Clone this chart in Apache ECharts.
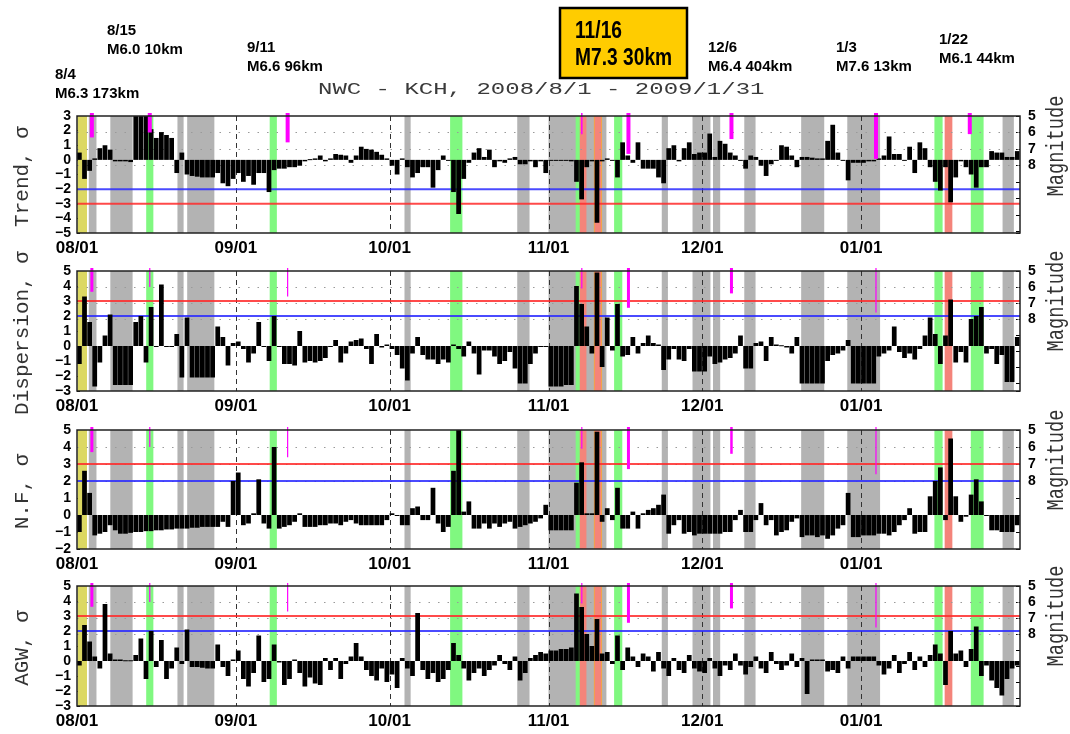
<!DOCTYPE html>
<html><head><meta charset="utf-8">
<script src="https://cdn.jsdelivr.net/npm/echarts@6/dist/echarts.min.js"></script>
<style>html,body{margin:0;padding:0;background:#fff}#c{width:1070px;height:734px}</style>
</head><body><div id="c"></div><script>
// ---------------- data ----------------
const DAYS = 184; // 2008/8/1 .. 2009/1/31
const monthTicks = [0, 31, 61, 92, 122, 153];
const monthLabels = ['08/01', '09/01', '10/01', '11/01', '12/01', '01/01'];

const trend = [
 0.5, -1.3, -0.75, 0.1, 0.8, 1.0, 0.7, -0.1, -0.1, -0.1,
 -0.15, 3, 3, 3, 2.1, 1.5, 1.9, 1.7, 1.5, -0.9,
 0.5, -1.0, -1.1, -1.15, -1.2, -1.2, -1.2, -0.9, -1.6, -1.8,
 -1.3, -0.9, -1.5, -1.1, -1.7, -0.9, -0.9, -2.2, -0.7, -0.6,
 -0.6, -0.5, -0.5, -0.4, -0.1, 0.05, 0.1, 0.3, -0.1, 0.1,
 0.4, 0.35, 0.3, -0.2, 0.3, 0.9, 0.75, 0.7, 0.55, 0.35,
 0.1, -0.4, -1.0, 0.1, -0.5, -1.2, -0.9, -0.5, -0.5, -1.9,
 -0.7, 0.3, 0, -2.2, -3.7, -1.3, -0.2, 0.5, 0.8, 0.2,
 0.7, -0.5, -0.1, -0.2, 0.1, 0.2, -0.3, -0.3, -0.1, -0.5,
 -0.1, -0.9, -0.05, 0, 0, 0, -0.1, -1.5, -2.7, -0.5,
 -0.1, -4.3, -0.1, 0.1, 0, -1.2, 1.2, 0.3, -0.2, 1.2,
 -0.6, -0.6, -0.6, -1.2, -1.6, 0.8, 1.0, -0.1, 0.8, 1.2,
 0.4, 0.5, 0.5, 1.8, 0.2, 1.3, 1.1, 0.5, 0.3, 0,
 -0.6, 0.3, 0.2, -0.4, -1.1, -0.3, 0, 1.0, 0.9, 0.3,
 -0.5, 0.2, 0.2, 0.15, 0.1, 0.1, 1.3, 2.4, 0.5, 0,
 -1.4, -0.2, -0.2, -0.2, -0.1, -0.1, 0.1, 0.3, 1.6, 0.4,
 0.4, 0, 0.9, -0.9, 1.2, 0.8, -0.5, -1.5, -2.1, -0.5,
 -2.9, -1.2, -0.1, -0.5, -1.0, -1.9, -0.5, -0.5, 0.6, 0.5,
 0.5, 0.2, 0.2, 0.6
];
const dispersion = [
 -1.2, 3.3, 1.6, -2.7, -1.1, 0.7, 2.1, -2.6, -2.6, -2.6,
 -2.6, 1.6, 2.0, -1.1, 2.6, 0, 4.1, 0, 0, 0.8,
 -2.1, 1.9, -2.1, -2.1, -2.1, -2.1, -2.1, 1.3, 0.6, -1.3,
 0.2, 0.3, -0.2, -1.1, -0.5, 1.6, 0, -1.0, 2.0, 0,
 -1.2, -1.2, -1.3, 1.0, -1.1, -1.0, -1.1, -1.0, -0.8, 0,
 0.4, -1.1, -0.5, 0.3, 0.4, 0.5, -0.2, -1.2, 0.8, -0.1,
 0.1, -0.2, -0.6, -1.5, -2.3, -0.5, 0.6, -0.6, -0.9, -0.9,
 -1.2, -0.9, -1.1, 0.1, -0.2, -0.7, 0.3, -0.5, -1.9, -0.3,
 -0.3, -0.7, -1.2, -1.0, -0.4, -1.5, -2.5, -2.5, -1.2, -0.5,
 0, 0, -2.7, -2.7, -2.7, -2.6, -2.6, 4.0, 2.8, 1.3,
 -0.5, 4.9, -1.4, 1.9, -0.3, 2.8, -0.7, -0.6, 0.6, -0.5,
 0.2, 0.7, 0.2, 0.1, -1.6, -0.9, -0.2, -0.9, -1.0, -0.2,
 -1.7, -1.7, -1.7, -0.7, -1.2, -1.1, -0.9, -0.8, -0.5, 0.7,
 -1.5, -1.5, 0.2, 0.3, -1.0, 0.6, 0.1, 0.05, -0.1, -0.5,
 0.6, -2.5, -2.5, -2.5, -2.5, -2.5, -1.0, -0.6, -0.5, -0.3,
 0.4, -2.5, -2.5, -2.5, -2.5, -2.5, -0.7, -0.5, -0.3, 1.3,
 -0.4, -0.8, -0.5, -0.9, -0.2, 0.7, 1.9, 0.8, -1.2, 0.7,
 3.1, -1.1, -0.4, -1.1, 1.8, 2.0, 2.6, -0.5, -0.2, -1.2,
 -0.6, -2.4, -2.4, 0.6
];
const nf = [
 -1.0, 2.6, 1.3, -1.2, -1.1, -1.0, -0.6, -0.9, -1.1, -1.1,
 -1.05, -1.0, -1.0, -0.95, -0.95, -0.9, -0.9, -0.85, -0.85, -0.8,
 -0.8, -0.8, -0.75, -0.75, -0.7, -0.7, -0.7, -0.7, -0.4, -0.7,
 2.0, 2.5, -0.6, -0.5, 0.1, 2.1, -0.5, -0.8, 4.0, -0.8,
 -0.7, -0.6, -0.4, 0.1, -0.7, -0.7, -0.7, -0.6, -0.6, -0.5,
 -0.5, -0.6, -0.4, -0.3, -0.5, -0.6, -0.6, -0.6, -0.6, -0.6,
 -0.3, 0.1, 0, -0.6, -0.6, 0.4, 0.5, -0.3, -0.3, 1.6,
 -0.5, -1.0, -0.7, 2.6, 5.0, 0.2, 0.8, -0.8, -0.8, -0.5,
 -0.8, -0.5, -0.7, -0.5, -0.4, -0.8, -0.7, -0.6, -0.5, -0.4,
 -0.2, 0.6, -0.9, -0.9, -0.9, -0.9, -0.9, 1.9, 3.1, 0.1,
 0.1, 4.9, -0.4, 0.4, -0.3, 1.6, -0.8, -0.8, 0.2, -0.8,
 0.1, 0.3, 0.4, 0.6, 1.2, -1.1, -0.6, -0.3, -1.1, -1.0,
 -1.2, -1.1, -1.1, -1.1, -1.1, -1.1, -1.0, -1.0, -0.3, 0.3,
 -1.0, -1.0, -0.3, 0.7, -0.6, -0.3, -1.2, -1.0, -0.9, -0.4,
 -0.2, -1.3, -1.2, -1.2, -1.3, -1.2, -1.4, -1.2, -0.8, -0.6,
 1.3, -1.3, -1.3, -1.2, -1.2, -1.2, -1.1, -1.1, -1.2, -1.0,
 -0.6, -0.3, 0.4, -1.1, -1.0, -1.0, 1.1, 2.0, 2.8, -0.3,
 4.5, 1.1, -0.4, -0.1, 1.2, 2.1, 0.8, 0, -0.9, -0.9,
 -1.0, -1.0, -1.0, -0.6
];
const agw = [
 -0.3, 2.4, 1.3, 0.3, -0.5, 3.8, 0.5, 0.1, 0.1, 0.05,
 0.05, 0.4, 1.5, -1.2, 2.0, -0.4, 1.4, -1.2, -0.5, 0.9,
 -0.2, 2.1, -0.4, -0.4, -0.45, -0.5, -0.5, 1.1, -0.4, -1.0,
 0.1, 0.7, -1.2, -1.7, -0.8, 1.7, -1.4, -1.2, 1.1, -0.1,
 -1.6, -1.2, 0.1, -0.8, -1.7, -1.1, -1.5, -1.6, 0.2, -0.6,
 0.2, -1.2, -0.2, 0.3, 1.2, 0.3, -0.6, -1.0, -1.3, -0.5,
 -1.4, -0.9, -1.8, 0.2, -0.5, -1.0, 3.2, -0.6, -1.2, -0.8,
 -1.4, -1.2, -0.6, 1.2, 0.4, -0.5, -1.3, -0.8, -0.5, -1.0,
 -0.6, -0.3, 0.4, -0.2, -0.6, 0.3, -1.3, -0.8, 0.2, 0.4,
 0.6, 0.5, 0.7, 0.7, 0.8, 0.8, 0.9, 4.5, 3.6, 1.8,
 1.0, 2.8, 0.5, 0.6, -0.2, 1.7, -0.6, 0.9, 0.3, -0.4,
 0.5, 0.3, -0.7, 0.6, -0.5, -1.0, 0.2, -0.6, -0.8, 0.4,
 -0.5, -0.7, -0.8, 0.2, -0.5, -1.0, -0.3, -0.6, 0.5, -0.3,
 -0.9, -0.4, 0.3, -0.5, -0.8, 0.6, -0.2, -0.6, -0.3, 0.5,
 -0.4, 0.2, -2.2, 0.1, 0.1, 0.1, -0.7, -0.6, -0.8, 0.3,
 -0.5, 0.3, 0.3, 0.3, 0.3, 0.3, -0.3, -0.9, -0.5, 0.4,
 -0.8, -0.2, 0.6, -0.6, 0.3, -0.4, 0.4, 1.1, 0.5, -1.6,
 2.0, 0.5, 0.7, -0.4, 0.8, 2.3, -1.0, -0.3, -1.3, -1.8,
 -2.3, -1.2, -0.5, -0.3
];

// earthquakes (day offset from 8/1, magnitude)
const eventDays   = [2.9, 14.2, 41.1, 98.5, 107.6, 127.7, 155.9, 174.2];
const eventMags   = [6.3, 6.0, 6.6, 6.1, 7.3, 6.4, 7.6, 6.1];
const eventDates  = ['8/4', '8/15', '9/11', '', '11/16', '12/6', '1/3', '1/22'];
const eventDepths = ['173km', '10km', '96km', '', '30km', '404km', '13km', '44km'];

// shaded periods (day ranges)
const grayBands = [[2.3,3.8],[6.5,10.85],[19.6,20.8],[21.5,26.8],[63.9,65.1],[85.9,88.3],[92,103.3],[114.1,115.3],[120.1,123.6],[124.1,125.5],[130.2,132.4],[141.3,145.8],[150.3,156.7],[180.6,182.8]];
const yellowBands = [[0.1,1.95]];
const greenBands = [[13.5,14.9],[37.6,39.0],[72.8,75.2],[97.3,98.3],[104.8,106.4],[167.3,168.9],[174.4,176.9]];
const orangeBands = [[100.85,102.45]];
const redBands = [[98.1,99.4],[101.05,102.25],[169.3,170.8]];

const magTicks = [6, 7, 8];

// ---------------- layout / style ----------------
const panels = [
 {name:'Trend, σ', values:trend, yMin:-5, yMax:3, red:-3, blue:-2, magMax:12.1, top:116, height:117, ew:[4,4,4,1.5,4,4,4,4]},
 {name:'Dispersion, σ', values:dispersion, yMin:-3, yMax:5, red:3, blue:2, magMax:12.5, top:271, height:120, ew:[3,1.2,1.2,1.2,3,3,1.2,0]},
 {name:'N.F, σ', values:nf, yMin:-2, yMax:5, red:3, blue:2, magMax:12.0, top:430, height:119, ew:[3,1.2,1.2,1.2,3,2.5,1.2,0]},
 {name:'AGW, σ', values:agw, yMin:-3, yMax:5, red:3, blue:2, magMax:12.5, top:586, height:120, ew:[3,1.2,1.2,1.2,3,3,1.2,0]}
];
const annoPos = [[55,65],[107,21],[247,38],null,[575,18],[708,38],[836,38],[939,30]];
const bandKinds = [grayBands, yellowBands, greenBands, orangeBands, redBands];
const bandColors = ['#b3b3b3', '#dcd862', '#80f880', '#f2a24a', '#f4847a'];
const GL = 77, GR = 50;
const SANS = '"Liberation Sans", Arial, sans-serif';
const MONO = '"Liberation Mono", "DejaVu Sans Mono", monospace';

const bandData = [];
bandKinds.forEach((list, k) => list.forEach(b => bandData.push([b[0], b[1], k])));

const grids = [], xAxes = [], yAxes = [], series = [];
panels.forEach((p, k) => {
  grids.push({left: GL, right: GR, top: p.top, height: p.height, containLabel: false});
  xAxes.push({
    type: 'value', gridIndex: k, min: 0, max: DAYS,
    axisLine: {show: false}, axisTick: {show: false}, splitLine: {show: false},
    axisLabel: {customValues: monthTicks, margin: 7, color: '#000', fontWeight: 'bold', fontSize: 17, fontFamily: SANS,
      formatter: v => monthLabels[monthTicks.indexOf(v)] || ''}
  });
  yAxes.push({
    type: 'value', gridIndex: k, min: p.yMin, max: p.yMax, interval: 1,
    axisLine: {show: false}, splitLine: {show: false},
    axisTick: {show: true, inside: true, length: 3, lineStyle: {color: '#000'}},
    axisLabel: {margin: 6, color: '#000', fontWeight: 'bold', fontSize: 14, fontFamily: SANS,
      formatter: v => String(v).replace('-', '\u2212')}
  });
  yAxes.push({
    type: 'value', gridIndex: k, position: 'right', inverse: true, min: 5, max: p.magMax, interval: 1,
    axisLine: {show: false}, splitLine: {show: false},
    axisTick: {show: true, inside: true, length: 4, lineStyle: {color: '#000'}},
    axisLabel: {margin: 8, color: '#000', fontWeight: 'bold', fontSize: 14, fontFamily: SANS,
      formatter: v => (v <= 8 ? String(v) : '')}
  });
  const yl = 2 * k, yr = 2 * k + 1;
  // shaded bands
  series.push({
    type: 'custom', xAxisIndex: k, yAxisIndex: yl, z: 1, silent: true, animation: false,
    data: bandData,
    renderItem: (params, api) => {
      const cs = params.coordSys;
      const x0 = api.coord([api.value(0), 0])[0], x1 = api.coord([api.value(1), 0])[0];
      return {type: 'rect', shape: {x: x0, y: cs.y, width: x1 - x0, height: cs.height},
        style: {fill: bandColors[api.value(2)]}};
    }
  });
  // dotted magnitude grid lines
  series.push({
    type: 'custom', xAxisIndex: k, yAxisIndex: yr, z: 2, silent: true, animation: false,
    data: magTicks.map(m => [0, m]),
    renderItem: (params, api) => {
      const cs = params.coordSys;
      const y = Math.round(api.coord([0, api.value(1)])[1]) + 0.5;
      return {type: 'line', shape: {x1: cs.x, y1: y, x2: cs.x + cs.width, y2: y},
        style: {stroke: '#9a9a9a', lineWidth: 1.2, lineDash: [1.5, 8]}};
    }
  });
  // month separators
  series.push({
    type: 'custom', xAxisIndex: k, yAxisIndex: yl, z: 2, silent: true, animation: false,
    data: monthTicks.slice(1).map(d => [d, 0]),
    renderItem: (params, api) => {
      const cs = params.coordSys;
      const x = Math.round(api.coord([api.value(0), 0])[0]) + 0.5;
      return {type: 'line', shape: {x1: x, y1: cs.y, x2: x, y2: cs.y + cs.height},
        style: {stroke: '#333', lineWidth: 1, lineDash: [5, 4]}};
    }
  });
  // threshold lines
  series.push({
    type: 'custom', xAxisIndex: k, yAxisIndex: yl, z: 3, silent: true, animation: false,
    data: [[0, p.red, 0], [0, p.blue, 1]],
    renderItem: (params, api) => {
      const cs = params.coordSys;
      const y = api.coord([0, api.value(1)])[1];
      return {type: 'line', shape: {x1: cs.x, y1: y, x2: cs.x + cs.width, y2: y},
        style: {stroke: api.value(2) === 0 ? '#ff2a2a' : '#2a2aff', lineWidth: 2, opacity: 0.85}};
    }
  });
  // daily bars
  series.push({
    type: 'custom', xAxisIndex: k, yAxisIndex: yl, z: 4, silent: true, animation: false,
    data: p.values.map((v, i) => [i, v]),
    renderItem: (params, api) => {
      const i = api.value(0), v = api.value(1);
      const a = api.coord([i, 0]), b = api.coord([i + 1, v]);
      return {type: 'rect', shape: {x: a[0], y: Math.min(a[1], b[1]), width: b[0] - a[0] - 0.4, height: Math.max(1, Math.abs(b[1] - a[1]))},
        style: {fill: '#000'}};
    }
  });
  // earthquake markers
  series.push({
    type: 'custom', xAxisIndex: k, yAxisIndex: yr, z: 5, silent: true, animation: false, clip: false,
    data: eventDays.map((d, i) => [d, eventMags[i], p.ew[i]]),
    renderItem: (params, api) => {
      const w = api.value(2);
      if (!w) return null;
      const top = api.coord([api.value(0), 5]);
      const bot = api.coord([api.value(0), api.value(1)]);
      return {type: 'rect', shape: {x: top[0] - w / 2, y: top[1] - 3, width: w, height: bot[1] - top[1] + 3},
        style: {fill: '#ff00ff'}};
    }
  });
  // frame
  series.push({
    type: 'custom', xAxisIndex: k, yAxisIndex: yl, z: 6, silent: true, animation: false, clip: false,
    data: [[0, 0]],
    renderItem: (params) => {
      const cs = params.coordSys;
      return {type: 'rect', shape: {x: cs.x, y: cs.y, width: cs.width, height: cs.height},
        style: {fill: 'none', stroke: '#222', lineWidth: 1.5}};
    }
  });
});

// ---------------- text graphics ----------------
const graphics = [];
graphics.push({type: 'text', x: 318, y: 81, scaleY: 0.72, silent: true,
  style: {text: 'NWC - KCH, 2008/8/1 - 2009/1/31', font: '24px ' + MONO, fill: '#3a3a3a', align: 'left', verticalAlign: 'top', textAlign: 'left', textVerticalAlign: 'top'}});
panels.forEach(p => {
  graphics.push({type: 'text', x: 22, y: p.top + p.height / 2 + 2, rotation: Math.PI / 2, silent: true,
    style: {text: p.name, font: '21px ' + MONO, fill: '#333', align: 'center', verticalAlign: 'middle', textAlign: 'center', textVerticalAlign: 'middle'}});
  graphics.push({type: 'text', x: 1057, y: p.top + 30, rotation: Math.PI / 2, scaleX: 0.78, silent: true,
    style: {text: 'Magnitude', font: '24px ' + MONO, fill: '#333', align: 'center', verticalAlign: 'middle', textAlign: 'center', textVerticalAlign: 'middle'}});
});
eventDates.forEach((d, i) => {
  if (!d) return;
  const pos = annoPos[i];
  const txt = d + '\nM' + eventMags[i].toFixed(1) + ' ' + eventDepths[i];
  if (d === '11/16') {
    graphics.push({type: 'rect', silent: true, shape: {x: 560, y: 8, width: 127, height: 70},
      style: {fill: '#ffcc00', stroke: '#000', lineWidth: 2.5}});
    graphics.push({type: 'text', x: pos[0], y: pos[1], scaleX: 0.8, silent: true,
      style: {text: txt, font: 'bold 24px ' + SANS, lineHeight: 27, fill: '#000', align: 'left', verticalAlign: 'top', textAlign: 'left', textVerticalAlign: 'top'}});
  } else {
    graphics.push({type: 'text', x: pos[0], y: pos[1], silent: true,
      style: {text: txt, font: 'bold 15px ' + SANS, lineHeight: 19, fill: '#000', align: 'left', verticalAlign: 'top', textAlign: 'left', textVerticalAlign: 'top'}});
  }
});

const chart = echarts.init(document.getElementById('c'));
chart.setOption({
  animation: false,
  backgroundColor: '#fff',
  grid: grids, xAxis: xAxes, yAxis: yAxes, series: series,
  graphic: graphics
});
</script></body></html>
